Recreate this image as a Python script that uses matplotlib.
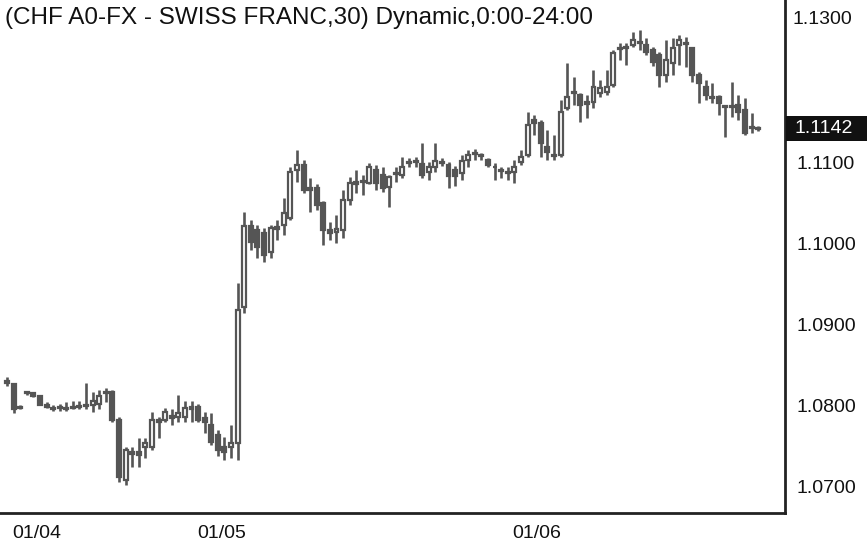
import numpy as np
import matplotlib
matplotlib.use("Agg")
import matplotlib.pyplot as plt
from matplotlib.patches import Rectangle

# 30 min bars, CHF
opens = [1.0830, 1.0826, 1.0797, 1.0815, 1.0815, 1.0811, 1.0801, 1.0796, 1.0797, 1.0797,
         1.0797, 1.0798, 1.0799, 1.0800, 1.0802, 1.0815, 1.0817, 1.0782, 1.0708, 1.0743,
         1.0743, 1.0748, 1.0748, 1.0782, 1.0782, 1.0787, 1.0786, 1.0786, 1.0795, 1.0798,
         1.0785, 1.0776, 1.0764, 1.0749, 1.0748, 1.0754, 1.0921, 1.1022, 1.1017, 1.1013,
         1.0989, 1.1018, 1.1023, 1.1032, 1.1091, 1.1097, 1.1069, 1.1069, 1.1050, 1.1017,
         1.1014, 1.1017, 1.1054, 1.1074, 1.1076, 1.1075, 1.1091, 1.1085, 1.1070, 1.1086,
         1.1085, 1.1100, 1.1101, 1.1098, 1.1089, 1.1095, 1.1101, 1.1097, 1.1091, 1.1087,
         1.1103, 1.1111, 1.1110, 1.1103, 1.1095, 1.1091, 1.1089, 1.1089, 1.1101, 1.1110,
         1.1153, 1.1149, 1.1119, 1.1110, 1.1110, 1.1168, 1.1186, 1.1184, 1.1175, 1.1175,
         1.1186, 1.1187, 1.1196, 1.1240, 1.1242, 1.1245, 1.1249, 1.1245, 1.1239, 1.1233,
         1.1208, 1.1223, 1.1245, 1.1248, 1.1242, 1.1208, 1.1194, 1.1181, 1.1181, 1.1170,
         1.1169, 1.1171, 1.1165, 1.1144, 1.1143]
highs = [1.0835, 1.0828, 1.0800, 1.0817, 1.0816, 1.0812, 1.0804, 1.0800, 1.0802, 1.0804,
         1.0805, 1.0806, 1.0828, 1.0816, 1.0819, 1.0821, 1.0819, 1.0786, 1.0749, 1.0749,
         1.0760, 1.0760, 1.0792, 1.0786, 1.0797, 1.0795, 1.0813, 1.0805, 1.0805, 1.0802,
         1.0792, 1.0791, 1.0770, 1.0761, 1.0776, 1.0951, 1.1039, 1.1029, 1.1023, 1.1019,
         1.1023, 1.1029, 1.1056, 1.1095, 1.1116, 1.1103, 1.1081, 1.1073, 1.1052, 1.1027,
         1.1035, 1.1066, 1.1082, 1.1091, 1.1085, 1.1100, 1.1097, 1.1095, 1.1085, 1.1094,
         1.1107, 1.1106, 1.1107, 1.1124, 1.1101, 1.1124, 1.1106, 1.1101, 1.1096, 1.1110,
         1.1116, 1.1117, 1.1112, 1.1106, 1.1100, 1.1094, 1.1094, 1.1103, 1.1116, 1.1163,
         1.1159, 1.1153, 1.1140, 1.1134, 1.1178, 1.1223, 1.1206, 1.1186, 1.1184, 1.1215,
         1.1202, 1.1215, 1.1239, 1.1248, 1.1248, 1.1261, 1.1264, 1.1254, 1.1243, 1.1237,
         1.1252, 1.1254, 1.1258, 1.1255, 1.1243, 1.1212, 1.1202, 1.1198, 1.1184, 1.1171,
         1.1200, 1.1184, 1.1180, 1.1161, 1.1145]
lows = [1.0824, 1.0791, 1.0795, 1.0813, 1.0810, 1.0800, 1.0797, 1.0793, 1.0793, 1.0793,
        1.0795, 1.0795, 1.0795, 1.0792, 1.0795, 1.0804, 1.0780, 1.0705, 1.0702, 1.0724,
        1.0724, 1.0735, 1.0745, 1.0760, 1.0779, 1.0776, 1.0779, 1.0779, 1.0780, 1.0779,
        1.0766, 1.0751, 1.0737, 1.0733, 1.0735, 1.0733, 1.0914, 1.0992, 1.0982, 1.0977,
        1.0982, 1.1005, 1.1011, 1.1029, 1.1076, 1.1063, 1.1039, 1.1042, 1.0998, 1.1005,
        1.1001, 1.1007, 1.1048, 1.1063, 1.1060, 1.1073, 1.1066, 1.1064, 1.1045, 1.1076,
        1.1081, 1.1094, 1.1095, 1.1081, 1.1079, 1.1089, 1.1096, 1.1069, 1.1071, 1.1079,
        1.1095, 1.1103, 1.1103, 1.1094, 1.1079, 1.1081, 1.1079, 1.1075, 1.1097, 1.1107,
        1.1134, 1.1107, 1.1103, 1.1103, 1.1107, 1.1165, 1.1171, 1.1150, 1.1155, 1.1168,
        1.1181, 1.1184, 1.1194, 1.1227, 1.1221, 1.1243, 1.1239, 1.1233, 1.1219, 1.1194,
        1.1200, 1.1208, 1.1221, 1.1218, 1.1200, 1.1174, 1.1178, 1.1174, 1.1159, 1.1132,
        1.1157, 1.1153, 1.1134, 1.1137, 1.1139]
closes = [1.0828, 1.0795, 1.0798, 1.0816, 1.0811, 1.0801, 1.0798, 1.0797, 1.0798, 1.0796,
          1.0798, 1.0799, 1.0801, 1.0805, 1.0811, 1.0817, 1.0782, 1.0711, 1.0745, 1.0740,
          1.0739, 1.0754, 1.0782, 1.0779, 1.0792, 1.0785, 1.0791, 1.0797, 1.0798, 1.0782,
          1.0780, 1.0755, 1.0745, 1.0742, 1.0754, 1.0918, 1.1022, 1.1002, 1.0996, 1.0986,
          1.1019, 1.1021, 1.1038, 1.1089, 1.1097, 1.1066, 1.1066, 1.1048, 1.1017, 1.1013,
          1.1018, 1.1054, 1.1075, 1.1076, 1.1077, 1.1095, 1.1075, 1.1069, 1.1082, 1.1087,
          1.1095, 1.1101, 1.1102, 1.1085, 1.1094, 1.1102, 1.1100, 1.1084, 1.1084, 1.1102,
          1.1110, 1.1112, 1.1108, 1.1097, 1.1094, 1.1090, 1.1087, 1.1095, 1.1107, 1.1147,
          1.1149, 1.1124, 1.1113, 1.1108, 1.1163, 1.1181, 1.1187, 1.1171, 1.1173, 1.1194,
          1.1192, 1.1194, 1.1236, 1.1242, 1.1243, 1.1252, 1.1248, 1.1237, 1.1224, 1.1208,
          1.1227, 1.1242, 1.1252, 1.1247, 1.1208, 1.1198, 1.1184, 1.1180, 1.1174, 1.1169,
          1.1170, 1.1163, 1.1137, 1.1143, 1.1142]

day_labels = ["01/04", "01/05", "01/06"]
day_pos = [4.55, 32.6, 80.4]          # bar index where the date label sits
price_ticks = [1.07, 1.08, 1.09, 1.10, 1.11]
title = "(CHF A0-FX - SWISS FRANC,30) Dynamic,0:00-24:00"

plt.rcParams['font.family'] = ['Liberation Sans', 'DejaVu Sans']

o = np.array(opens); h = np.array(highs); l = np.array(lows); c = np.array(closes)
x = np.arange(len(o))
up = c >= o
grey = "#555555"

fig = plt.figure(figsize=(8.67, 5.48), dpi=100)
ax = fig.add_axes([0.0, 35 / 548, 785 / 867, 513 / 548])

ax.vlines(x, l, h, color=grey, linewidth=1.9, zorder=1)
body_low = np.minimum(o, c)
body_h = np.maximum(np.abs(c - o), 0.00004)
ax.bar(x[up], body_h[up], bottom=body_low[up], width=0.6,
       facecolor="white", edgecolor=grey, linewidth=1.6, zorder=2)
ax.bar(x[~up], body_h[~up], bottom=body_low[~up], width=0.6,
       facecolor=grey, edgecolor=grey, linewidth=1.6, zorder=2)

ax.set_xlim(-1.06, 118.06)
ax.set_ylim(1.0667, 1.1301)

ax.spines['left'].set_visible(False)
ax.spines['top'].set_visible(False)
for s in ['right', 'bottom']:
    ax.spines[s].set_linewidth(2.0)
    ax.spines[s].set_color("#222222")

ax.yaxis.tick_right()
ax.set_yticks(price_ticks)
ax.set_yticklabels([f"{v:.4f}" for v in price_ticks])
ax.set_xticks(day_pos)
ax.set_xticklabels(day_labels)
ax.tick_params(axis='y', length=0, pad=8, labelsize=14, colors="#111111")
ax.tick_params(axis='x', length=0, pad=9, labelsize=14, colors="#111111")

# top label sits lower than its grid value on the original
ax.text(1.0 + 8 / 785, 1 - 20 / 513, "1.1300", transform=ax.transAxes,
        ha='left', va='center', fontsize=14, color="#111111")

# last price box, from the axis line to the figure edge
box_y = ax.transData.transform((0, closes[-1]))[1] / fig.bbox.height
fig.patches.append(Rectangle((786 / 867, box_y - 12.5 / 548), 81 / 867, 25 / 548,
                             transform=fig.transFigure, facecolor="#111111",
                             edgecolor="none", zorder=3))
fig.text(794 / 867, box_y, f"{closes[-1]:.4f}", ha='left', va='center',
         fontsize=14, color="white", zorder=5)

ax.text(5 / 785, 1 - 18 / 513, title, transform=ax.transAxes, ha='left', va='center',
        fontsize=17.5, color="#111111")

fig.savefig("out.png", dpi=100)
